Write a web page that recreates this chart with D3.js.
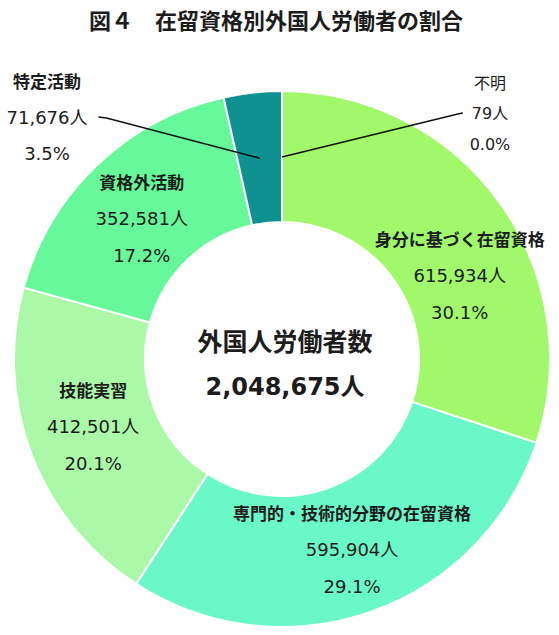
<!DOCTYPE html>
<html lang="ja">
<head>
<meta charset="utf-8">
<title>図４ 在留資格別外国人労働者の割合</title>
<script src="https://cdn.jsdelivr.net/npm/d3@7"></script>
<style>
  body { margin: 0; background: #fff; }
  svg { display: block; }
  text { fill: #1c1c1c; }
</style>
</head>
<body>
<svg id="chart" width="559" height="635"></svg>
<script>
'use strict';

// values (clockwise from 12 o'clock)
var categories = ['不明', '身分に基づく在留資格', '専門的・技術的分野の在留資格', '技能実習', '資格外活動', '特定活動'];
var workers    = [79, 615934, 595904, 412501, 352581, 71676];
var shares     = [0.0, 30.1, 29.1, 20.1, 17.2, 3.5];
var totalTitle = '外国人労働者数';
var totalCount = 2048675;
var chartTitle = '図４　在留資格別外国人労働者の割合';

// styling / layout (kept apart from the data)
var sliceColors = ['#6cc04a', '#a0f86a', '#6af8c8', '#abf8a8', '#66f89a', '#0f9191'];
var layout = {
  cx: 282, cy: 359,
  outerR: 268, innerR: 137,
  labelR: 202,
  rowGap: 37
};
// inside labels: nudge from the slice centroid
var nudges = [null, [14, 35], [3, 0], [0, -4], [-1, 6], null];
// outside labels: block centre, text size, row gap, which side the leader enters
var outside = {
  0: { at: [490, 113], size: 16, gap: 31.5, bold: false, side: 'left' },
  5: { at: [47, 117], size: 18, gap: 36.5, bold: true, side: 'right' }
};

var fmtCount = d3.format(',');
var jpFont = '"Noto Sans CJK JP", sans-serif';
var numFont = '"DejaVu Sans", "Noto Sans CJK JP", sans-serif';

var data = categories.map(function (c, i) {
  return { name: c, workers: workers[i], share: shares[i], color: sliceColors[i], i: i };
});

var svg = d3.select('#chart');

svg.append('rect').attr('width', 559).attr('height', 635).attr('fill', '#fff');

// title
svg.append('text')
  .attr('x', 276).attr('y', 19)
  .attr('text-anchor', 'middle')
  .attr('dominant-baseline', 'central')
  .style('font-family', jpFont)
  .style('font-weight', 700)
  .style('font-size', '22px')
  .text(chartTitle);

var pie = d3.pie().sort(null).value(function (d) { return d.workers; });
var arc = d3.arc().innerRadius(layout.innerR).outerRadius(layout.outerR);
var labelArc = d3.arc().innerRadius(layout.labelR).outerRadius(layout.labelR);

var arcs = pie(data);

var g = svg.append('g')
  .attr('transform', 'translate(' + layout.cx + ',' + layout.cy + ')');

g.selectAll('path.slice')
  .data(arcs)
  .enter().append('path')
  .attr('class', 'slice')
  .attr('d', arc)
  .attr('fill', function (d) { return d.data.color; })
  .attr('stroke', '#fff')
  .attr('stroke-width', 2);

// centre text
g.append('text')
  .attr('x', 3).attr('y', -19)
  .attr('text-anchor', 'middle')
  .attr('dominant-baseline', 'central')
  .style('font-family', jpFont)
  .style('font-weight', 700)
  .style('font-size', '25px')
  .text(totalTitle);

g.append('text')
  .attr('x', 3).attr('y', 28)
  .attr('text-anchor', 'middle')
  .attr('dominant-baseline', 'central')
  .style('font-family', numFont)
  .style('font-weight', 700)
  .style('font-size', '24px')
  .text(fmtCount(totalCount) + '人');

// three-line label: name / count / share
function labelBlock(parent, d, x, y, gap, size, nameBold) {
  var lg = parent.append('g').attr('transform', 'translate(' + x + ',' + y + ')');
  lg.append('text')
    .attr('y', -gap)
    .attr('text-anchor', 'middle')
    .attr('dominant-baseline', 'central')
    .style('font-family', jpFont)
    .style('font-weight', nameBold ? 700 : 400)
    .style('font-size', (nameBold ? size - 1 : size) + 'px')
    .text(d.name);
  var count = lg.append('text')
    .attr('y', 0)
    .attr('text-anchor', 'middle')
    .attr('dominant-baseline', 'central')
    .style('font-family', numFont)
    .style('font-size', size + 'px')
    .text(fmtCount(d.workers) + '人');
  lg.append('text')
    .attr('y', gap)
    .attr('text-anchor', 'middle')
    .attr('dominant-baseline', 'central')
    .style('font-family', numFont)
    .style('font-size', size + 'px')
    .text(d.share.toFixed(1) + '%');
  return count;
}

arcs.forEach(function (a) {
  var i = a.data.i;
  var c = labelArc.centroid(a);
  if (outside[i]) {
    var o = outside[i];
    var bx = o.at[0] - layout.cx, by = o.at[1] - layout.cy;
    var count = labelBlock(g, a.data, bx, by, o.gap, o.size, o.bold);
    var half = count.node().getComputedTextLength() / 2;
    // leader: centroid -> elbow -> short flat run next to the count
    var endX = o.side === 'right' ? bx + half + 11 : bx - half - 9;
    var elbowX = o.side === 'right' ? endX + 8 : endX - 5;
    g.append('path')
      .attr('d', d3.line()([c, [elbowX, by + 1], [endX, by]]))
      .attr('fill', 'none')
      .attr('stroke', '#111')
      .attr('stroke-width', 1.6);
  } else {
    var n = nudges[i];
    labelBlock(g, a.data, c[0] + n[0], c[1] + n[1], layout.rowGap, 18, true);
  }
});
</script>
</body>
</html>
